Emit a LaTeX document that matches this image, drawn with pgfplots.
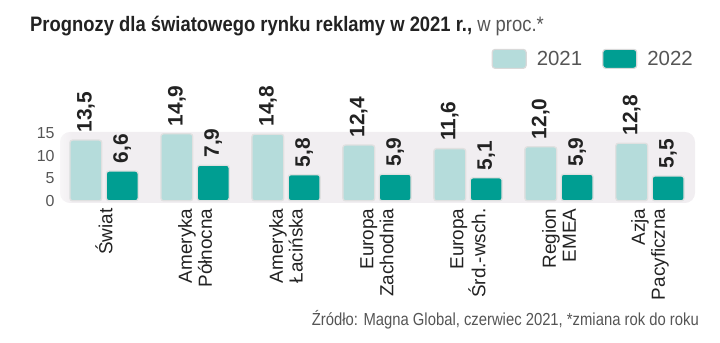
\documentclass[border=0pt]{standalone}
\usepackage{pgfplots}
\pgfplotsset{compat=1.18}
\usetikzlibrary{fadings}
\usepackage{fontspec}
\setmainfont{Liberation Sans}
\newfontfamily\condT[FakeStretch=0.88]{Liberation Sans}
\newfontfamily\condS[FakeStretch=0.85]{Liberation Sans}
\definecolor{cA}{HTML}{B5DCDB}
\definecolor{cB}{HTML}{009E92}
\definecolor{bg}{HTML}{F1EEF1}
\definecolor{txt}{HTML}{222222}
\definecolor{tick}{HTML}{555555}
\begin{document}
\begin{tikzpicture}
\path[use as bounding box] (0bp,0bp) rectangle (720bp,343bp);
\node[anchor=base west, inner sep=0, text=txt] at (30bp,311bp) {\condT\fontsize{21}{24}\selectfont\textbf{Prognozy dla światowego rynku reklamy w 2021 r.,} {\color{tick}w proc.*}};
\node[anchor=base east, inner sep=0, text=tick] at (699bp,18bp) {\condS\fontsize{17.5}{20}\selectfont Źródło: Magna Global, czerwiec 2021, *zmiana rok do roku};
\begin{axis}[
  at={(60bp,140bp)}, anchor=south west,
  scale only axis, width=635bp, height=71bp,
  xmin=-0.484, xmax=6.495, ymin=-0.5, ymax=15.3,
  axis line style={draw=none},
  ytick={0,5,10,15},
  yticklabel style={text=tick, font=\fontsize{16}{16}\selectfont, xshift=-2bp},
  /pgf/number format/assume math mode=true,
  major tick length=0pt,
  xtick={0,1,2,3,4,5,6},
  xticklabels={Świat, {Ameryka\\Północna}, {Ameryka\\Łacińska}, {Europa\\Zachodnia}, {Europa\\Śrd.-wsch.}, {Region\\EMEA}, {Azja\\Pacyficzna}},
  xticklabel style={rotate=90, anchor=east, align=right, font=\fontsize{19}{20}\selectfont, text=txt, xshift=-2bp},
  ymajorgrids, grid style={draw=white, line width=0.8pt},
  ybar, bar width=0.35,
  nodes near coords, point meta=explicit symbolic,
  every node near coord/.append style={rotate=90, anchor=west, font=\fontsize{21}{21}\selectfont\bfseries, text=txt, inner sep=0pt, xshift=7bp},
  legend style={at={(1.0,2.03)}, anchor=east, legend columns=2, draw=none, fill=none, inner sep=0pt, font=\fontsize{20.5}{20.5}\selectfont, text=tick, /tikz/every odd column/.append style={column sep=8bp}, /tikz/every even column/.append style={column sep=18bp}},
  legend image code/.code={\draw[#1, draw=black!15, line width=1.2pt, rounded corners=3pt] (0bp,-9.5bp) rectangle (34bp,9.5bp);},
]
\fill[bg, rounded corners=10pt] (rel axis cs:0,0) rectangle (rel axis cs:1,1);
\fill[white, opacity=0.5, path fading=east] (rel axis cs:0,0) rectangle (rel axis cs:0.02,1);
\addplot[fill=cA, draw=black!12, line width=1.3pt, rounded corners=2.5pt, bar shift=-0.2] coordinates {
(0,13.5) [13,5] (1,14.9) [14,9] (2,14.8) [14,8] (3,12.4) [12,4] (4,11.6) [11,6] (5,12.0) [12,0] (6,12.8) [12,8]};
\addplot[fill=cB, draw=black!12, line width=1.3pt, rounded corners=2.5pt, bar shift=0.2] coordinates {
(0,6.6) [6,6] (1,7.9) [7,9] (2,5.8) [5,8] (3,5.9) [5,9] (4,5.1) [5,1] (5,5.9) [5,9] (6,5.5) [5,5]};
\legend{2021,2022}
\end{axis}
\end{tikzpicture}
\end{document}
